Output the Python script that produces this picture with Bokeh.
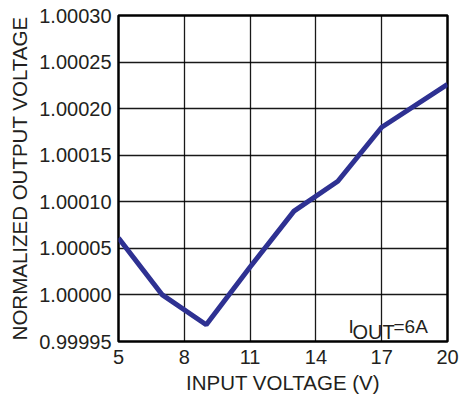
from bokeh.plotting import figure
from bokeh.models import FixedTicker, PrintfTickFormatter, Label, Range1d
from bokeh.embed import file_html
from bokeh.resources import INLINE

# Data
input_voltage = [5, 7, 9, 11, 13, 15, 17, 20]
normalized_vout = [1.000061, 1.000000, 0.999968, 1.000030, 1.000090, 1.000122, 1.000180, 1.000226]
x_ticks = [5, 8, 11, 14, 17, 20]
y_ticks = [0.99995, 1.00000, 1.00005, 1.00010, 1.00015, 1.00020, 1.00025, 1.00030]

FONT = "Liberation Sans"
TXT = "#231f20"

p = figure(width=459, height=402, output_backend="svg", toolbar_location=None,
           x_range=Range1d(5, 20), y_range=Range1d(0.99995, 1.00030),
           min_border_left=118, min_border_right=12, min_border_top=15, min_border_bottom=61)

p.line(input_voltage, normalized_vout, line_color="#2e3192", line_width=5)

p.outline_line_color = "black"
p.outline_line_width = 2.5
p.background_fill_color = "white"
p.border_fill_color = "white"

for g in (p.xgrid, p.ygrid):
    g.grid_line_color = "black"
    g.grid_line_width = 1.3
    g.grid_line_alpha = 0.9

p.xaxis.ticker = FixedTicker(ticks=x_ticks)
p.yaxis.ticker = FixedTicker(ticks=y_ticks)
p.yaxis.formatter = PrintfTickFormatter(format="%.5f")
p.xgrid.ticker = FixedTicker(ticks=x_ticks)
p.ygrid.ticker = FixedTicker(ticks=y_ticks)

for ax in (p.xaxis, p.yaxis):
    ax.axis_line_color = None
    ax.major_tick_line_color = None
    ax.minor_tick_line_color = None
    ax.major_tick_in = 0
    ax.major_tick_out = 0
    ax.major_label_text_font = FONT
    ax.major_label_text_font_size = "20px"
    ax.major_label_text_color = TXT
    ax.axis_label_text_font = FONT
    ax.axis_label_text_font_style = "normal"
    ax.axis_label_text_color = TXT

p.xaxis.axis_label = "INPUT VOLTAGE (V)"
p.yaxis.axis_label = "NORMALIZED OUTPUT VOLTAGE"
p.xaxis.axis_label_text_font_size = "20.5px"
p.yaxis.axis_label_text_font_size = "20.5px"
p.xaxis.major_label_standoff = 8
p.yaxis.major_label_standoff = 7
p.xaxis.axis_label_standoff = 4
p.yaxis.axis_label_standoff = 5

# I_OUT=6A annotation (frame-relative screen units)
p.add_layout(Label(x=230, y=15, x_units="screen", y_units="screen", text="I",
                   text_font=FONT, text_font_size="19px", text_color=TXT,
                   text_baseline="alphabetic"))
p.add_layout(Label(x=234, y=10, x_units="screen", y_units="screen", text="OUT",
                   text_font=FONT, text_font_size="20px", text_color=TXT,
                   text_baseline="alphabetic"))
p.add_layout(Label(x=275, y=15, x_units="screen", y_units="screen", text="=6A",
                   text_font=FONT, text_font_size="19px", text_color=TXT,
                   text_baseline="alphabetic"))

# stray tick label at the lower-left edge of the reference image
p.add_layout(Label(x=-116, y=-27, x_units="screen", y_units="screen", text="0",
                   text_font=FONT, text_font_size="20px", text_color=TXT,
                   text_baseline="alphabetic"))

open("out.html", "w").write(file_html(p, INLINE))
